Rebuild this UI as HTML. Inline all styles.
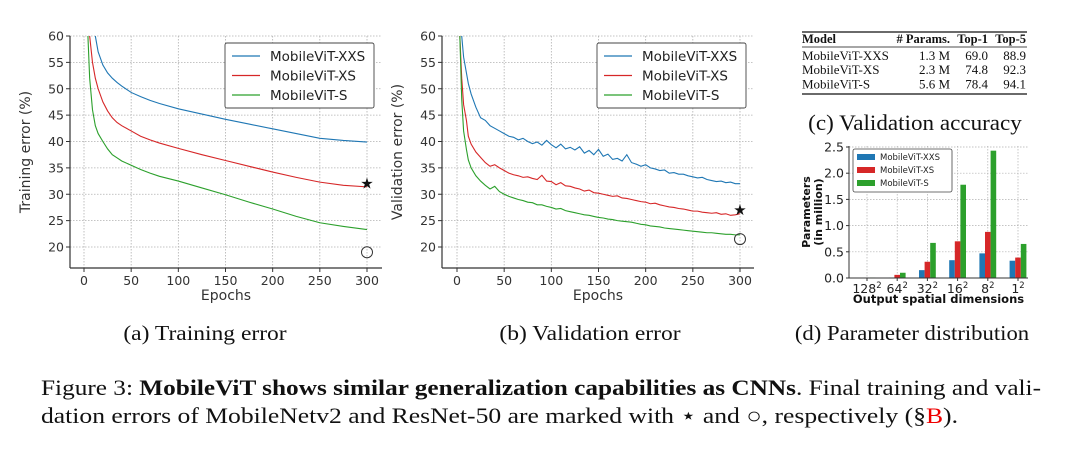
<!DOCTYPE html>
<html><head><meta charset="utf-8">
<style>
body{margin:0;background:#fff;width:1080px;height:461px;overflow:hidden;position:relative;font-family:"Liberation Serif",serif;}
svg{position:absolute;left:0;top:0;}
.cap{position:absolute;font-size:21px;color:#111;white-space:nowrap;}
</style></head>
<body>
<svg id="svg" width="1080" height="461">
<text x="41" y="395" textLength="1000" lengthAdjust="spacingAndGlyphs" font-size="22" fill="#111" font-family="Liberation Serif, serif">Figure 3: <tspan font-weight="bold">MobileViT shows similar generalization capabilities as CNNs</tspan>. Final training and vali-</text>
<text x="41" y="423" textLength="917" lengthAdjust="spacingAndGlyphs" font-size="22" fill="#111" font-family="Liberation Serif, serif">dation errors of MobileNetv2 and ResNet-50 are marked with ⋆ and ○, respectively (§<tspan fill="#e00">B</tspan>).</text>
</svg>
<div class="cap" style="left:205px;top:321px;transform:translateX(-50%) scaleX(1.12)">(a) Training error</div>
<div class="cap" style="left:590px;top:321px;transform:translateX(-50%) scaleX(1.12)">(b) Validation error</div>
<div class="cap" style="left:912px;top:321px;transform:translateX(-50%) scaleX(1.08)">(d) Parameter distribution</div>
<script>
const trainEpochs=[3,6,9,12,15,20,25,30,35,40,50,60,70,80,100,125,150,175,200,225,250,275,300];
const trainXXS=[90,80,68,60,57,54.5,53,52,51.2,50.5,49.3,48.5,47.8,47.2,46.2,45.2,44.2,43.3,42.4,41.5,40.6,40.2,39.9];
const trainXS=[80,60,55,52,50,47.5,45.8,44.5,43.6,43,42,41,40.3,39.7,38.7,37.5,36.4,35.3,34.2,33.2,32.3,31.7,31.4];
const trainS=[65,52,46,43,41.5,40,38.6,37.5,36.9,36.3,35.5,34.7,34,33.4,32.5,31.2,29.9,28.5,27.2,25.8,24.6,23.9,23.3];
const valEpochs=[2,3,5,7,10,12,15];for(let e=20;e<=300;e+=5)valEpochs.push(e);
const valXXS=[120,100,60,56,53,51,49,46.5,44.5,44,43,42.5,42,41.5,41,40.8,40.3,40.6,40,39.6,39.9,39.3,40.2,39.4,38.8,39.5,38.6,38.9,38.4,39,37.8,38.3,37.5,38.5,37.2,37.6,36.6,36.8,36.3,37.5,36,35.7,35.3,35.6,35,34.8,34.5,34.6,34,34.1,33.8,33.8,33.5,33.3,33.1,33.2,32.8,32.6,32.4,32.5,32.2,32.3,32,32];
const valXS=[90,60,52,47,44,41,39.5,38,37,36,35.3,35.6,35,34.5,34,33.7,33.5,33.2,33.3,33,32.8,33.6,32.5,32.4,31.8,32.2,31.6,31.5,31.2,31,30.6,30.8,30.3,30.2,30,29.8,29.6,29.7,29.3,29.2,29,28.8,28.6,28.5,28.2,28.3,28,27.8,27.6,27.5,27.3,27.2,27,26.8,26.8,26.6,26.5,26.4,26.5,26.2,26.3,26,26.1,26.3];
const valS=[70,60,48,42,38.5,36.5,35,33.5,32.5,31.7,31,31.5,30.5,30,29.6,29.3,29,28.8,28.5,28.4,28,28,27.7,27.5,27.2,27.3,26.9,26.7,26.5,26.3,26.1,26,25.8,25.6,25.5,25.3,25.2,25,24.9,24.8,24.7,24.5,24.3,24.2,24,23.9,23.8,23.6,23.5,23.4,23.3,23.2,23.1,23,22.9,22.8,22.7,22.7,22.6,22.5,22.4,22.4,22.3,22.3];
const trainMarkers=[32,19];
const valMarkers=[27,21.5];
const yTicksErr=[20,25,30,35,40,45,50,55,60];
const xTicksEp=[0,50,100,150,200,250,300];
const seriesNames=["MobileViT-XXS","MobileViT-XS","MobileViT-S"];
const barCats=["128","64","32","16","8","1"];
const barXXS=[0.005,0.01,0.15,0.34,0.47,0.33];
const barXS=[0.005,0.06,0.31,0.70,0.88,0.39];
const barS=[0.01,0.10,0.67,1.78,2.43,0.65];
const barTicks=[0.0,0.5,1.0,1.5,2.0,2.5];
const tableRows=[["MobileViT-XXS","1.3 M","69.0","88.9"],["MobileViT-XS","2.3 M","74.8","92.3"],["MobileViT-S","5.6 M","78.4","94.1"]];
const colors=["#1f77b4","#d62728","#2ca02c"];
const NS="http://www.w3.org/2000/svg";
const svg=document.getElementById('svg');
function mk(tag,at,parent){const e=document.createElementNS(NS,tag);for(const k in at)e.setAttribute(k,at[k]);(parent||svg).appendChild(e);return e;}
function txt(s,at,parent){const e=mk('text',at,parent);e.textContent=s;return e;}
const SANS='"DejaVu Sans","Liberation Sans",sans-serif';

function lineChart(id,L,R,T,B,x0px,x300px,ylabel,epochs,series,markers){
  const g=mk('g',{});
  
  
  const xs=v=>x0px+v*(x300px-x0px)/300;
  const ys=v=>36+(60-v)*(247-36)/40;
  const cid='clip-'+id;
  const cp=mk('clipPath',{id:cid},g);mk('rect',{x:L,y:T,width:R-L,height:B-T},cp);
  yTicksErr.forEach(v=>{const y=ys(v);
    const gl=mk('line',{x1:L,x2:R,y1:y,y2:y,stroke:'#b0b0b0','stroke-width':0.8,'stroke-dasharray':'1.5,1.5'},g);
    
    mk('line',{x1:L-4,x2:L,y1:y,y2:y,stroke:'#333'},g);
    const t=txt(String(v),{x:L-6,y:y+4.5,'text-anchor':'end','font-size':12.5,fill:'#333','font-family':SANS},g);
    });
  xTicksEp.forEach(v=>{const x=xs(v);
    const gl=mk('line',{x1:x,x2:x,y1:T,y2:B,stroke:'#b0b0b0','stroke-width':0.8,'stroke-dasharray':'1.5,1.5'},g);
    
    mk('line',{x1:x,x2:x,y1:B,y2:B+4,stroke:'#333'},g);
    const t=txt(String(v),{x:x,y:B+17,'text-anchor':'middle','font-size':12.5,fill:'#333','font-family':SANS},g);
    });
  series.forEach((vals,i)=>{
    const p=mk('polyline',{points:vals.map((v,j)=>xs(epochs[j])+','+ys(v)).join(' '),fill:'none',stroke:colors[i],'stroke-width':1.1,'clip-path':'url(#'+cid+')'},g);
    });
  mk('line',{x1:L,x2:L,y1:T,y2:B,stroke:'#333','stroke-width':1.2},g);
  mk('line',{x1:L,x2:R,y1:B,y2:B,stroke:'#333','stroke-width':1.2},g);
  const sx=xs(300),sy=ys(markers[0]);
  const star=txt('★',{x:sx,y:sy+5,'text-anchor':'middle','font-size':15,fill:'#111','font-family':SANS},g);
  
  const c=mk('circle',{cx:xs(300),cy:ys(markers[1]),r:5.5,fill:'none',stroke:'#333','stroke-width':1},g);
  
  const xl=txt('Epochs',{x:(L+R)/2,y:B+32,'text-anchor':'middle','font-size':14,fill:'#333','font-family':SANS},g);
  
  const yl=txt(ylabel,{x:0,y:0,'text-anchor':'middle','font-size':14,fill:'#333','font-family':SANS,transform:'translate('+(L-40)+','+((T+B)/2)+') rotate(-90)'},g);
  
  const lx=R-157,ly=43;
  const lg=mk('g',{},g);
  
  mk('rect',{x:lx,y:ly,width:149,height:65,rx:2,fill:'#fff',stroke:'#444','stroke-width':0.9},lg);
  seriesNames.forEach((n,i)=>{const yy=ly+13+i*19.5;
    mk('line',{x1:lx+7,x2:lx+35,y1:yy,y2:yy,stroke:colors[i],'stroke-width':1.3},lg);
    const t=txt(n,{x:lx+45,y:yy+5,'font-size':13.5,fill:'#222','font-family':SANS},lg);
    });
}
lineChart('training-error-chart',70,382,36,268,84,367,'Training error (%)',trainEpochs,[trainXXS,trainXS,trainS],trainMarkers);
lineChart('validation-error-chart',442,754,36,268,457,740,'Validation error (%)',valEpochs,[valXXS,valXS,valS],valMarkers);

// table
(function(){
  const g=mk('g',{});
  
  const SER='"Liberation Serif",serif';
  mk('line',{x1:802,x2:1027,y1:32,y2:32,stroke:'#111','stroke-width':1.2},g);
  mk('line',{x1:802,x2:1027,y1:47,y2:47,stroke:'#111','stroke-width':0.7},g);
  mk('line',{x1:802,x2:1027,y1:94,y2:94,stroke:'#111','stroke-width':1.2},g);
  const cols=[[802,'start'],[950,'end'],[988,'end'],[1026,'end']];
  ['Model','# Params.','Top-1','Top-5'].forEach((h,i)=>{const t=txt(h,{x:cols[i][0],y:43,'text-anchor':cols[i][1],'font-size':12.5,'font-weight':'bold',fill:'#111','font-family':SER},g);
    });
  tableRows.forEach((r,ri)=>r.forEach((c,i)=>{const t=txt(c,{x:cols[i][0],y:60+ri*14.2,'text-anchor':cols[i][1],'font-size':13,fill:'#111','font-family':SER},g);
    }));
  const cap=txt('(c) Validation accuracy',{x:0,y:0,'text-anchor':'middle','font-size':22,fill:'#111','font-family':SER,transform:'translate(915,130) scale(1.05,1)'},g);
  
})();

// bar chart
(function(){
  const L=849,R=1028,T=146,B=278;
  const g=mk('g',{});
  
  const ys=v=>B-v*(B-147)/2.5;
  const xc=i=>867+i*(1018-867)/5;
  barTicks.forEach(v=>{const y=ys(v);
    mk('line',{x1:L,x2:R,y1:y,y2:y,stroke:'#b0b0b0','stroke-width':0.7,'stroke-dasharray':'1.5,1.5'},g);
    mk('line',{x1:L-3,x2:L,y1:y,y2:y,stroke:'#333'},g);
    const t=txt(v.toFixed(1),{x:L-5,y:y+4.5,'text-anchor':'end','font-size':12.5,fill:'#222','font-family':SANS},g);
    });
  barCats.forEach((c,i)=>{const x=xc(i);
    mk('line',{x1:x,x2:x,y1:T,y2:B,stroke:'#b0b0b0','stroke-width':0.7,'stroke-dasharray':'1.5,1.5'},g);
    mk('line',{x1:x,x2:x,y1:B,y2:B+3,stroke:'#333'},g);
    const t=txt('',{x:x,y:B+15,'text-anchor':'middle','font-size':12.5,fill:'#222','font-family':SANS},g);
    
    t.textContent=c;const s=mk('tspan',{dy:-5,'font-size':8.5},t);s.textContent='2';});
  const bw=5.6;
  [barXXS,barXS,barS].forEach((vals,si)=>vals.forEach((v,i)=>{
    const x=xc(i)+(si-1)*bw-bw/2;
    const r=mk('rect',{x:x,y:ys(v),width:bw,height:B-ys(v),fill:colors[si]},g);
    }));
  mk('line',{x1:L,x2:L,y1:T,y2:B,stroke:'#333'},g);
  mk('line',{x1:L,x2:R,y1:B,y2:B,stroke:'#333'},g);
  const xl=txt('Output spatial dimensions',{x:(L+R)/2,y:B+25,'text-anchor':'middle','font-size':11.5,'font-weight':'bold',fill:'#111','font-family':SANS},g);
  
  const yl=txt('Parameters',{x:0,y:0,'text-anchor':'middle','font-size':11,'font-weight':'bold',fill:'#111','font-family':SANS,transform:'translate(810,'+((T+B)/2)+') rotate(-90)'},g);
  
  const yl2=txt('(in million)',{x:0,y:0,'text-anchor':'middle','font-size':11,'font-weight':'bold',fill:'#111','font-family':SANS,transform:'translate(822,'+((T+B)/2)+') rotate(-90)'},g);
  
  const lg=mk('g',{},g);
  
  mk('rect',{x:853,y:149,width:99,height:43,rx:2,fill:'#fff',stroke:'#444','stroke-width':0.8},lg);
  seriesNames.forEach((n,i)=>{const yy=157+i*13;
    mk('rect',{x:857,y:yy-3,width:18,height:6,fill:colors[i]},lg);
    const t=txt(n,{x:880,y:yy+3,'font-size':8.5,fill:'#222','font-family':SANS},lg);
    });
})();
</script>
</body></html>
